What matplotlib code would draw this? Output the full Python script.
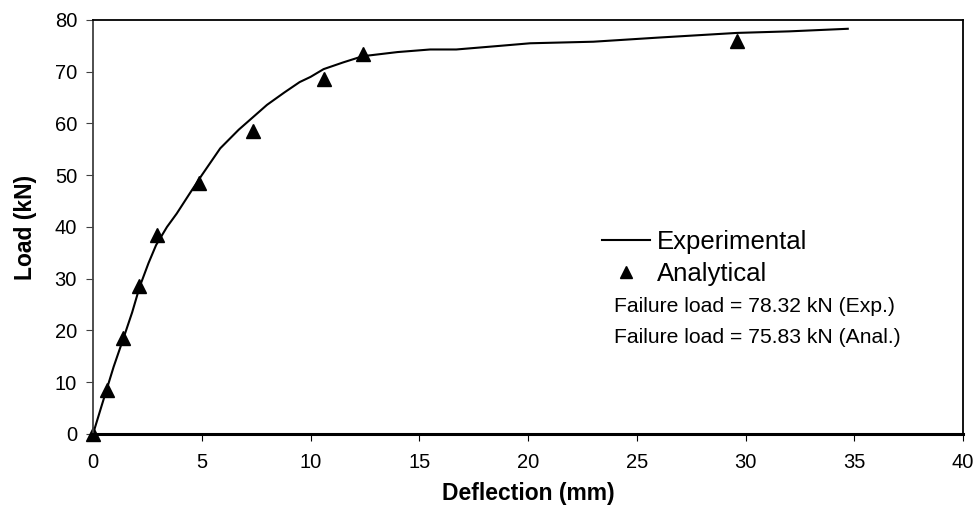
import matplotlib.pyplot as plt

plt.rcParams['font.family'] = ['Liberation Sans', 'DejaVu Sans']

# experimental load-deflection curve
exp_defl = [0, 0.4, 0.95, 1.4, 1.8, 2.15, 2.55, 2.9, 3.4, 3.85, 4.45, 5.0, 5.85,
            6.7, 8.0, 8.8, 9.5, 10.0, 10.6, 11.5, 12.4, 14.0, 15.5, 16.7,
            18.7, 20.1, 23.0, 26.0, 29.6, 32.0, 34.7]
exp_load = [0, 5.5, 13.0, 18.5, 23.5, 28.5, 33.0, 36.5, 40.0, 42.6, 46.5, 50.0, 55.2,
            58.8, 63.6, 66.0, 68.0, 69.0, 70.5, 71.8, 73.0, 73.8, 74.3, 74.3,
            75.0, 75.5, 75.8, 76.6, 77.5, 77.8, 78.3]

# analytical points
ana_defl = [0, 0.64, 1.4, 2.13, 2.96, 4.87, 7.36, 10.6, 12.41, 29.6]
ana_load = [0, 8.5, 18.5, 28.5, 38.4, 48.5, 58.5, 68.5, 73.5, 75.9]

fig = plt.figure(figsize=(9.8, 5.15), dpi=100)
ax = fig.add_axes([0.0949, 0.1573, 0.8878, 0.8039])

ax.plot(exp_defl, exp_load, color='black', lw=1.5, label='Experimental')
ax.plot(ana_defl, ana_load, linestyle='none', marker='^', color='black',
        markersize=10, label='Analytical', clip_on=False)

ax.set_xlim(0, 40)
ax.set_ylim(0, 80)
ax.set_xticks(range(0, 41, 5))
ax.set_yticks(range(0, 81, 10))
ax.tick_params(direction='out', length=5, labelsize=14.5)
ax.tick_params(axis='x', pad=9)
ax.tick_params(axis='y', pad=6.5, color='#404040')
for s in ax.spines.values():
    s.set_linewidth(1.3)
ax.spines['left'].set_color('#404040')
ax.spines['bottom'].set_linewidth(2.2)

ax.set_xlabel('Deflection (mm)', fontsize=16.5, fontweight='bold', labelpad=7)
ax.set_ylabel('Load (kN)', fontsize=16.5, fontweight='bold', labelpad=13)

ax.legend(loc='upper left', bbox_to_anchor=(0.585, 0.493), frameon=False,
          fontsize=18.5, handlelength=1.87, handletextpad=0.27, labelspacing=0.3,
          borderpad=0, borderaxespad=0, markerscale=0.9)

ax.text(0.599, 0.307, 'Failure load = 78.32 kN (Exp.)', transform=ax.transAxes,
        fontsize=15.2, va='center')
ax.text(0.599, 0.234, 'Failure load = 75.83 kN (Anal.)', transform=ax.transAxes,
        fontsize=15.2, va='center')

fig.savefig('out.png', dpi=100)
